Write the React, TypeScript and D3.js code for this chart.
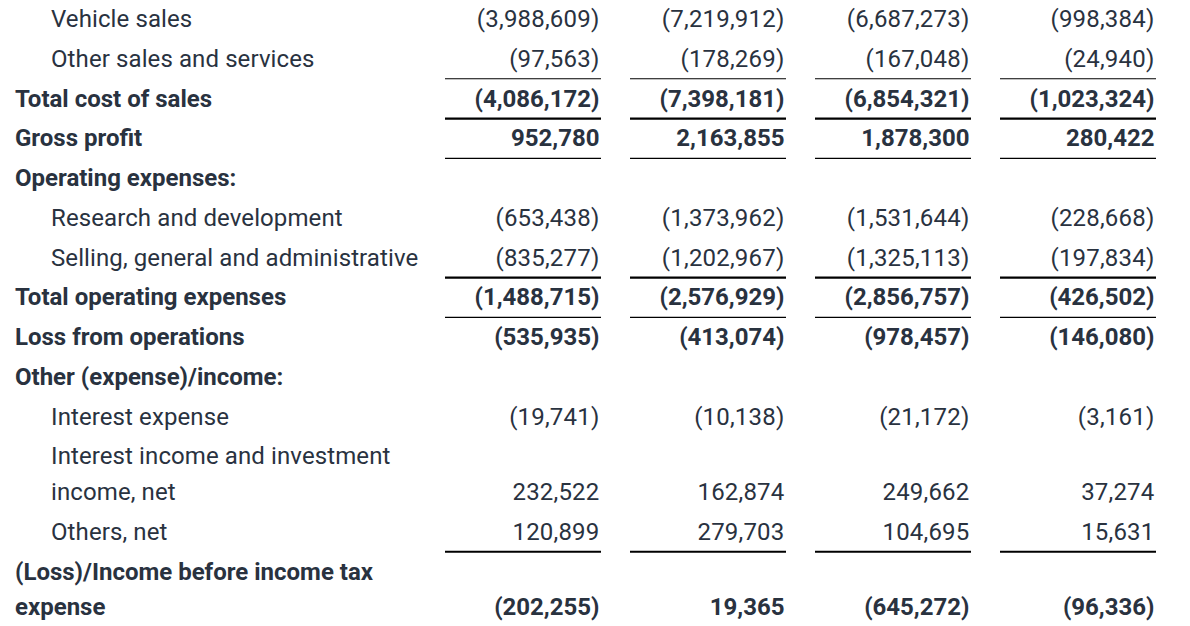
import React from "react";
import * as d3 from "d3";

// row labels, in order (a "\n" splits a label over two lines)
const rowLabels = [
  "Vehicle sales",
  "Other sales and services",
  "Total cost of sales",
  "Gross profit",
  "Operating expenses:",
  "Research and development",
  "Selling, general and administrative",
  "Total operating expenses",
  "Loss from operations",
  "Other (expense)/income:",
  "Interest expense",
  "Interest income and investment\nincome, net",
  "Others, net",
  "(Loss)/Income before income tax\nexpense",
];

// "sub" rows are indented, "total" and "head" rows are bold
const rowKinds = [
  "sub", "sub", "total", "total", "head", "sub", "sub",
  "total", "total", "head", "sub", "sub", "sub", "total",
];

// rules drawn under a row: thin or thick
const rulesAfter: [number, "thin" | "thick"][] = [
  [1, "thin"], [2, "thick"], [3, "thin"], [6, "thick"], [7, "thin"], [12, "thick"],
];

const periods = ["Q2 2021 RMB", "Q1 2022 RMB", "Q2 2022 RMB", "Q2 2022 US$"];

// values in thousands, null where the row is a heading
const q2_2021 = [-3988609, -97563, -4086172, 952780, null, -653438, -835277, -1488715, -535935, null, -19741, 232522, 120899, -202255];
const q1_2022 = [-7219912, -178269, -7398181, 2163855, null, -1373962, -1202967, -2576929, -413074, null, -10138, 162874, 279703, 19365];
const q2_2022 = [-6687273, -167048, -6854321, 1878300, null, -1531644, -1325113, -2856757, -978457, null, -21172, 249662, 104695, -645272];
const q2_2022usd = [-998384, -24940, -1023324, 280422, null, -228668, -197834, -426502, -146080, null, -3161, 37274, 15631, -96336];

const series = [q2_2021, q1_2022, q2_2022, q2_2022usd];

const W = 1190;
const H = 626;
const INK = "#29323f";
const fmt = d3.format(",");
const show = (v: number) => (v < 0 ? `(${fmt(-v)})` : fmt(v));

export default function App() {
  const pitch = 39.77;
  const extraLine = 35.5;

  // baseline of the first line of each row
  const tops: number[] = [];
  let acc = 27;
  rowLabels.forEach((l) => {
    tops.push(acc);
    acc += pitch + (l.split("\n").length - 1) * extraLine;
  });

  const x = d3
    .scaleBand<string>()
    .domain(periods)
    .range([445, 1156])
    .paddingInner(29 / 185)
    .paddingOuter(0);

  return (
    <svg
      width={W}
      height={H}
      style={{ position: "absolute", left: 0, top: 0, background: "#fff" }}
      fontFamily="Roboto, sans-serif"
      fontSize={24}
      fill={INK}
    >
      {rowLabels.map((label, i) => {
        const lines = label.split("\n");
        const bold = rowKinds[i] !== "sub";
        const lx = rowKinds[i] === "sub" ? 51 : 15;
        const lastY = tops[i] + (lines.length - 1) * extraLine;
        return (
          <g key={i} fontWeight={bold ? 700 : 400}>
            {lines.map((t, j) => (
              <text
                key={j}
                x={lx}
                y={tops[i] + j * extraLine}
                letterSpacing={bold ? 0 : 0.1}
              >
                {t}
              </text>
            ))}
            {series.map((s, k) => {
              const v = s[i];
              if (v == null) return null;
              return (
                <text
                  key={k}
                  x={(x(periods[k]) as number) + x.bandwidth() - 1.5}
                  y={lastY}
                  textAnchor="end"
                  letterSpacing={bold ? 0 : 0.2}
                >
                  {show(v)}
                </text>
              );
            })}
          </g>
        );
      })}
      {rulesAfter.map(([r, w]) => {
        const lines = rowLabels[r].split("\n").length;
        const y = tops[r] + (lines - 1) * extraLine + 12;
        return periods.map((p) => (
          <line
            key={`${r}-${p}`}
            x1={x(p)}
            x2={(x(p) as number) + x.bandwidth()}
            y1={y}
            y2={y}
            stroke="#000"
            strokeWidth={w === "thick" ? 2.2 : 1.2}
          />
        ));
      })}
    </svg>
  );
}
